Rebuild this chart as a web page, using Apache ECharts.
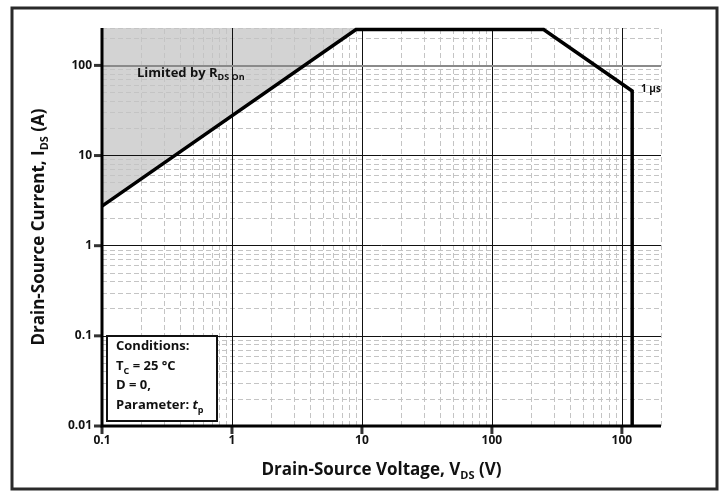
<!DOCTYPE html>
<html>
<head>
<meta charset="utf-8">
<script src="https://cdn.jsdelivr.net/npm/echarts@6/dist/echarts.min.js"></script>
<style>
html,body{margin:0;padding:0;background:#fff;}
#chart{width:726px;height:495px;}
</style>
</head>
<body>
<div id="chart"></div>
<script>
// ---- data ----
var voltage = [0.1, 9, 250, 1200, 1200];           // V_DS (V)
var current = [2.75, 250, 250, 52, 0.01];          // I_DS (A)
var shadeV = [0.1, 9, 9, 0.1];                     // R_DS(on) limited region
var shadeI = [2.75, 250, 260, 260];
var xTicks = [0.1, 1, 10, 100, 1000];
var xTickLabels = ['0.1', '1', '10', '100', '100'];
var yTicks = [0.01, 0.1, 1, 10, 100];
var yTickLabels = ['0.01', '0.1', '1', '10', '100'];
var xMin = 0.1, xMax = 2000, yMin = 0.01, yMax = 260;

var FONT = '"Open Sans", "Noto Sans", sans-serif';

// gridlines
var xMinor = [], yMinor = [];
[0.1, 1, 10, 100].forEach(function (d) { for (var k = 2; k <= 9; k++) xMinor.push(+(d * k).toPrecision(3)); });
xMinor.push(2000);
[0.01, 0.1, 1, 10].forEach(function (d) { for (var k = 2; k <= 9; k++) yMinor.push(+(d * k).toPrecision(3)); });
yMinor.push(200);
yMinor.push(yMax);

var minorStyle = { color: '#c4c4c4', width: 1, type: [5, 3] };
var gridLines = [];
xMinor.forEach(function (v) { gridLines.push({ xAxis: v, lineStyle: minorStyle }); });
yMinor.forEach(function (v) { gridLines.push({ yAxis: v, lineStyle: minorStyle }); });
[1, 10, 100, 1000].forEach(function (v) { gridLines.push({ xAxis: v, lineStyle: { color: '#111', width: 1, type: 'solid' } }); });
[0.1, 1, 10].forEach(function (v) { gridLines.push({ yAxis: v, lineStyle: { color: '#111', width: 1, type: 'solid' } }); });
gridLines.push({ yAxis: 100, lineStyle: { color: '#8a8a8a', width: 2, type: 'solid' } });

var chart = echarts.init(document.getElementById('chart'), null, { renderer: 'canvas' });

function xLabel(v) { var i = xTicks.indexOf(v); return i >= 0 ? xTickLabels[i] : ''; }
function yLabel(v) { var i = yTicks.indexOf(v); return i >= 0 ? yTickLabels[i] : ''; }

var nameRich = {
  a: { fontFamily: FONT, fontWeight: 'bold', fontSize: 17, color: '#111', lineHeight: 22 },
  s: { fontFamily: FONT, fontWeight: 'bold', fontSize: 11, color: '#111', lineHeight: 22, verticalAlign: 'bottom', padding: [8, 0, 0, 0] }
};

var option = {
  animation: false,
  backgroundColor: '#fff',
  grid: { left: 102, right: 65, top: 28, bottom: 69, containLabel: false },
  xAxis: {
    type: 'log', logBase: 10, min: xMin, max: xMax,
    name: '{a|Drain-Source Voltage, V}{s|DS}{a| (V)}',
    nameLocation: 'middle', nameGap: 33,
    nameTextStyle: { rich: nameRich },
    axisLine: { show: false },
    axisTick: { show: false },
    axisLabel: { customValues: xTicks, formatter: xLabel, fontFamily: FONT, fontWeight: 'bold', fontSize: 12, color: '#111', margin: 9 },
    splitLine: { show: false },
    minorTick: { show: false }, minorSplitLine: { show: false }
  },
  yAxis: {
    type: 'log', logBase: 10, min: yMin, max: yMax,
    name: '{a|Drain-Source Current, I}{s|DS}{a| (A)}',
    nameLocation: 'middle', nameGap: 52, nameRotate: 90,
    nameTextStyle: { rich: nameRich },
    axisLine: { show: false },
    axisTick: { show: false },
    axisLabel: { customValues: yTicks, formatter: yLabel, fontFamily: FONT, fontWeight: 'bold', fontSize: 12, color: '#111', margin: 10 },
    splitLine: { show: false },
    minorTick: { show: false }, minorSplitLine: { show: false }
  },
  series: [
    {
      type: 'custom', z: 1, silent: true,
      data: [0],
      renderItem: function (params, api) {
        var pts = shadeV.map(function (v, i) { return api.coord([v, shadeI[i]]); });
        return { type: 'polygon', shape: { points: pts }, style: { fill: '#d3d3d3', stroke: null } };
      }
    },
    {
      type: 'line', z: 2, data: [], silent: true,
      markLine: { silent: true, symbol: ['none', 'none'], label: { show: false }, animation: false, data: gridLines }
    },
    {
      type: 'line', z: 5, silent: true,
      data: voltage.map(function (v, i) { return [v, current[i]]; }),
      showSymbol: false, symbol: 'none',
      lineStyle: { color: '#000', width: 3.5, join: 'miter' }
    },
    // axis lines
    {
      type: 'line', z: 8, silent: true, clip: false, showSymbol: false, symbol: 'none',
      data: [[xMax, yMin], [xMin, yMin], [xMin, yMax]],
      lineStyle: { color: '#000', width: 3, join: 'miter' }
    },
    // x ticks
    {
      type: 'scatter', z: 8, silent: true, clip: false,
      data: xTicks.map(function (v) { return [v, yMin]; }),
      symbol: 'rect', symbolSize: [3, 8], symbolOffset: [0, 4],
      itemStyle: { color: '#000' }
    },
    // y ticks
    {
      type: 'scatter', z: 8, silent: true, clip: false,
      data: yTicks.map(function (v) { return [xMin, v]; }),
      symbol: 'rect', symbolSize: [8, 3], symbolOffset: [-4, 0],
      itemStyle: { color: '#000' }
    }
  ],
  graphic: [
    { type: 'rect', z: 100, shape: { x: 12, y: 8, width: 705, height: 481 }, style: { fill: 'none', stroke: '#2a2a2a', lineWidth: 3 } },
    {
      type: 'text', z: 100, left: 137, top: 67,
      style: {
        text: '{a|Limited by R}{s|DS On}',
        rich: {
          a: { fontFamily: FONT, fontWeight: 'bold', fontSize: 13, fill: '#111', lineHeight: 17 },
          s: { fontFamily: FONT, fontWeight: 'bold', fontSize: 9, fill: '#111', lineHeight: 17, verticalAlign: 'bottom', padding: [5, 0, 0, 0] }
        }
      }
    },
    { type: 'text', z: 100, left: 641, top: 84, style: { text: '1 µs', fontFamily: FONT, fontWeight: 'bold', fontSize: 10, fill: '#111' } },
    { type: 'rect', z: 100, shape: { x: 107, y: 336, width: 110, height: 85 }, style: { fill: '#fff', stroke: '#111', lineWidth: 2 } },
    {
      type: 'text', z: 101, left: 116, top: 340,
      style: {
        text: '{a|Conditions:}\n{a|T}{s|C}{a| = 25 °C}\n{a|D = 0,}\n{a|Parameter: }{i|t}{s|p}',
        rich: {
          a: { fontFamily: FONT, fontWeight: 'bold', fontSize: 13, fill: '#111', lineHeight: 19.5 },
          i: { fontFamily: FONT, fontWeight: 'bold', fontStyle: 'italic', fontSize: 13, fill: '#111', lineHeight: 19.5 },
          s: { fontFamily: FONT, fontWeight: 'bold', fontSize: 9, fill: '#111', lineHeight: 19.5, verticalAlign: 'bottom', padding: [5, 0, 0, 0] }
        }
      }
    }
  ]
};
chart.setOption(option);
</script>
</body>
</html>
